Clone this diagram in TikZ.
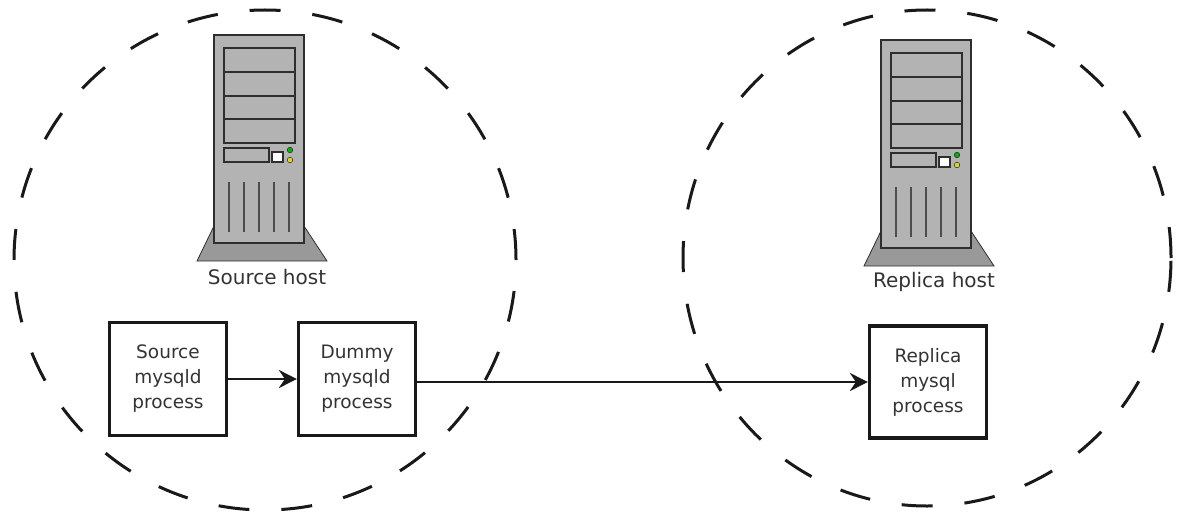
\documentclass[tikz,border=0pt]{standalone}
\usepackage{fontspec}
\newfontfamily\lblfont{DejaVu Sans}
\usetikzlibrary{arrows.meta}
\definecolor{bodygray}{HTML}{B3B3B3}
\definecolor{basegray}{HTML}{999999}
\definecolor{edgegray}{HTML}{2E2E2E}
\definecolor{txtgray}{HTML}{333333}
\tikzset{
  hostzone/.style={draw=black!90, line width=3pt, dash pattern=on 31pt off 32pt},
  procbox/.style={draw=black!90, line width=3.2pt, fill=white, minimum width=117pt, minimum height=113pt,
    align=center, text=txtgray, font=\lblfont\fontsize{18.5}{25}\selectfont, inner sep=0pt},
  hostlabel/.style={text=txtgray, font=\lblfont\fontsize{20}{22}\selectfont, inner sep=0pt},
  flow/.style={draw=black!90, line width=2.8pt, -{Stealth[length=18pt,width=18pt,inset=6pt]}},
  server/.pic={
    \fill[basegray, draw=edgegray, line width=0.8pt] (0,191) -- (90,191) -- (113,226) -- (-17,226) -- cycle;
    \draw[edgegray, fill=bodygray, line width=2.6pt] (0,0) rectangle (90,208);
    \draw[edgegray, line width=2.2pt] (10,13) rectangle (81,108);
    \draw[edgegray, line width=2.2pt] (10,37) -- (81,37) (10,61) -- (81,61) (10,84) -- (81,84);
    \draw[edgegray, line width=1.8pt] (10,113) rectangle (55,127);
    \draw[edgegray, fill=white, line width=1.4pt] (58,117) rectangle (69,127);
    \fill[green!70!black, draw=edgegray, line width=0.5pt] (76,115) circle[radius=2.8pt];
    \fill[yellow!85!black, draw=edgegray, line width=0.5pt] (76,125) circle[radius=2.8pt];
    \draw[edgegray!85, line width=2.4pt] (15,147) -- (15,197) (30,147) -- (30,197) (45,147) -- (45,197)
      (60,147) -- (60,197) (75,147) -- (75,197);
  }
}
\begin{document}
\begin{tikzpicture}[x=1pt, y=-1pt]
  \useasboundingbox (0,0) rectangle (1182,513);
  % host zones
  \draw[hostzone] (265,260) ellipse[x radius=251pt, y radius=250pt];
  \draw[hostzone] (927,258) ellipse[x radius=244pt, y radius=248pt];
  % servers
  \pic at (214,35) {server};
  \pic at (881,40) {server};
  \node[hostlabel] (srchost) at (267,277) {Source host};
  \node[hostlabel] (rephost) at (934,282) {Replica host};
  % processes
  \node[procbox] (src) at (168,379) {Source\\mysqld\\process};
  \node[procbox] (dummy) at (357,379) {Dummy\\mysqld\\process};
  \node[procbox, minimum height=112pt] (replica) at (928,382) {Replica\\mysql\\process};
  % flows
  \draw[flow] (src.east) -- (dummy.west);
  \draw[flow] (dummy.east |- replica.west) -- (replica.west);
\end{tikzpicture}
\end{document}
